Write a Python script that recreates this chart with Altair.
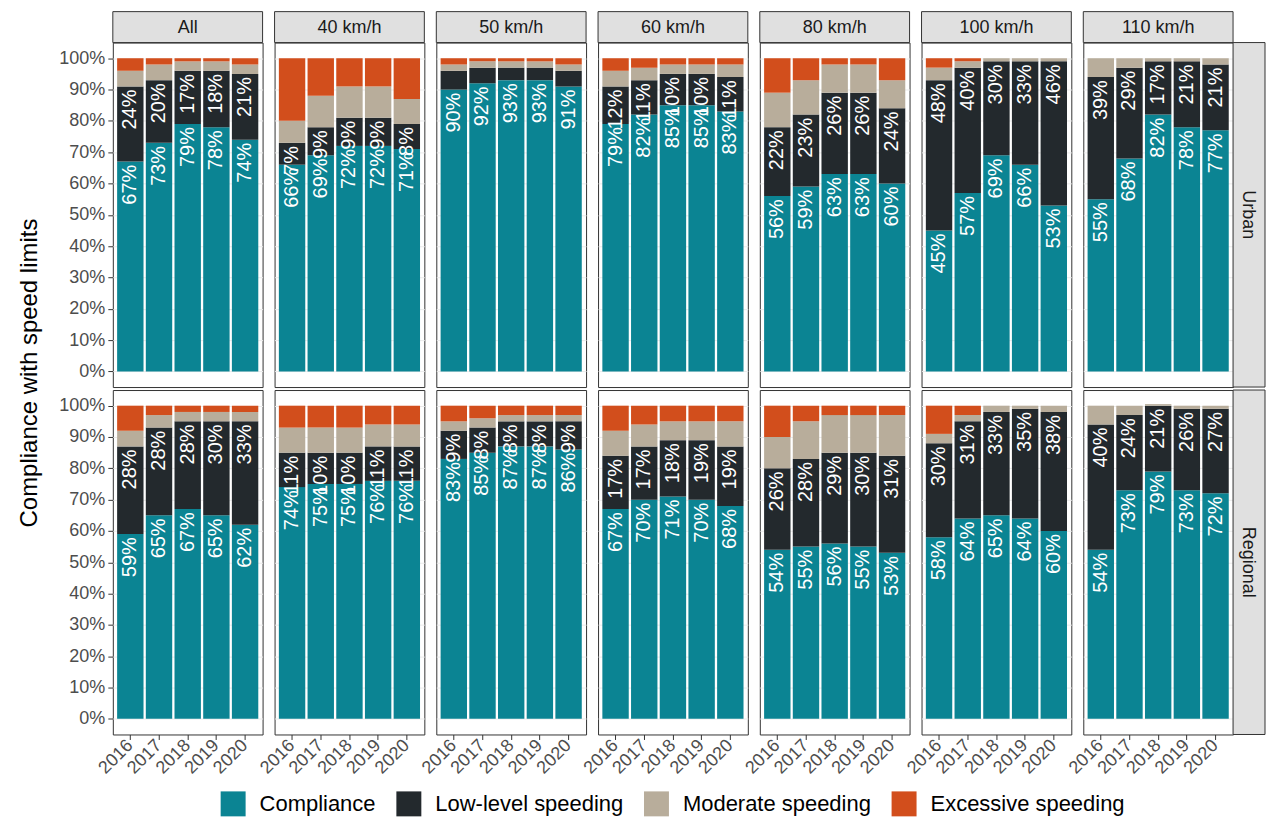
import altair as alt
import pandas as pd

FONT = "Liberation Sans"

years = ["2016", "2017", "2018", "2019", "2020"]
limits = ["All", "40 km/h", "50 km/h", "60 km/h", "80 km/h", "100 km/h", "110 km/h"]
areas = ["Urban", "Regional"]
categories = ["Compliance", "Low-level speeding", "Moderate speeding", "Excessive speeding"]
palette = ["#0b8493", "#23292d", "#b8ad9b", "#d24e1c"]

# Share of vehicles (%) per speed limit, one value per year 2016-2020
urban_compliance = {
    "All": [67, 73, 79, 78, 74], "40 km/h": [66, 69, 72, 72, 71], "50 km/h": [90, 92, 93, 93, 91],
    "60 km/h": [79, 82, 85, 85, 83], "80 km/h": [56, 59, 63, 63, 60], "100 km/h": [45, 57, 69, 66, 53],
    "110 km/h": [55, 68, 82, 78, 77],
}
urban_low = {
    "All": [24, 20, 17, 18, 21], "40 km/h": [7, 9, 9, 9, 8], "50 km/h": [6, 5, 4, 4, 5],
    "60 km/h": [12, 11, 10, 10, 11], "80 km/h": [22, 23, 26, 26, 24], "100 km/h": [48, 40, 30, 33, 46],
    "110 km/h": [39, 29, 17, 21, 21],
}
urban_moderate = {
    "All": [5, 5, 3, 3, 3], "40 km/h": [7, 10, 10, 10, 8], "50 km/h": [2, 2, 2, 2, 2],
    "60 km/h": [5, 4, 3, 3, 4], "80 km/h": [11, 11, 9, 9, 9], "100 km/h": [4, 2, 1, 1, 1],
    "110 km/h": [6, 3, 1, 1, 2],
}
urban_excessive = {
    "All": [4, 2, 1, 1, 2], "40 km/h": [20, 12, 9, 9, 13], "50 km/h": [2, 1, 1, 1, 2],
    "60 km/h": [4, 3, 2, 2, 2], "80 km/h": [11, 7, 2, 2, 7], "100 km/h": [3, 1, 0, 0, 0],
    "110 km/h": [0, 0, 0, 0, 0],
}
regional_compliance = {
    "All": [59, 65, 67, 65, 62], "40 km/h": [74, 75, 75, 76, 76], "50 km/h": [83, 85, 87, 87, 86],
    "60 km/h": [67, 70, 71, 70, 68], "80 km/h": [54, 55, 56, 55, 53], "100 km/h": [58, 64, 65, 64, 60],
    "110 km/h": [54, 73, 79, 73, 72],
}
regional_low = {
    "All": [28, 28, 28, 30, 33], "40 km/h": [11, 10, 10, 11, 11], "50 km/h": [9, 8, 8, 8, 9],
    "60 km/h": [17, 17, 18, 19, 19], "80 km/h": [26, 28, 29, 30, 31], "100 km/h": [30, 31, 33, 35, 38],
    "110 km/h": [40, 24, 21, 26, 27],
}
regional_moderate = {
    "All": [5, 4, 3, 3, 3], "40 km/h": [8, 8, 8, 7, 7], "50 km/h": [3, 3, 2, 2, 2],
    "60 km/h": [8, 7, 6, 6, 8], "80 km/h": [10, 12, 12, 12, 13], "100 km/h": [3, 2, 2, 1, 2],
    "110 km/h": [6, 3, 0.5, 1, 1],
}
regional_excessive = {
    "All": [8, 3, 2, 2, 2], "40 km/h": [7, 7, 7, 6, 6], "50 km/h": [5, 4, 3, 3, 3],
    "60 km/h": [8, 6, 5, 5, 5], "80 km/h": [10, 5, 3, 3, 3], "100 km/h": [9, 3, 0, 0, 0],
    "110 km/h": [0, 0, 0, 0, 0],
}

tables = {
    "Urban": [urban_compliance, urban_low, urban_moderate, urban_excessive],
    "Regional": [regional_compliance, regional_low, regional_moderate, regional_excessive],
}

records = []
for area in areas:
    for limit in limits:
        for k, cat in enumerate(categories):
            for i, yr in enumerate(years):
                records.append({"area": area, "limit": limit, "year": yr, "category": cat,
                                "order": k, "value": tables[area][k][limit][i]})
df = pd.DataFrame(records)

W, H = 150, 345

base = alt.Chart().transform_stack(
    stack="value",
    groupby=["area", "limit", "year"],
    sort=[alt.SortField("order", order="ascending")],
    as_=["y0", "y1"],
)

x_enc = alt.X(
    "year:O", title=None,
    scale=alt.Scale(paddingInner=0.08, paddingOuter=0.15),
    axis=alt.Axis(labelAngle=-45, labelAlign="right", labelBaseline="middle"),
)
y_scale = alt.Scale(domain=[-5, 105], nice=False)
y_axis = alt.Axis(values=list(range(0, 101, 10)), labelExpr="datum.value + '%'", title=None)

bars = base.mark_bar().encode(
    x=x_enc,
    y=alt.Y("y0:Q", scale=y_scale, axis=y_axis),
    y2="y1:Q",
    color=alt.Color("category:N", scale=alt.Scale(domain=categories, range=palette),
                    legend=alt.Legend(title=None, orient="none", legendX=108, legendY=750,
                                      direction="horizontal")),
)

labels = base.transform_filter(
    "datum.order <= 1 && datum.value >= 7"
).transform_calculate(
    ylab="datum.y1 - 1", lab="datum.value + '%'"
).mark_text(
    angle=270, align="right", baseline="middle", color="white", fontSize=20, font=FONT
).encode(
    x=x_enc,
    y=alt.Y("ylab:Q", scale=y_scale, axis=y_axis),
    text="lab:N",
)

top_filter = "datum.area == 'Urban' && datum.year == '2016' && datum.order == 0"
strip_top = base.transform_filter(top_filter).mark_rect(
    fill="#e0e0e0", stroke="#333333", strokeWidth=1
).encode(x=alt.value(0), x2=alt.value(W), y=alt.value(-31), y2=alt.value(0))
strip_top_text = base.transform_filter(top_filter).mark_text(
    fontSize=18, color="#1a1a1a", font=FONT, baseline="middle", align="center"
).encode(x=alt.value(W / 2), y=alt.value(-15), text="limit:N")

right_filter = "datum.limit == '110 km/h' && datum.year == '2016' && datum.order == 0"
strip_right = base.transform_filter(right_filter).mark_rect(
    fill="#e0e0e0", stroke="#333333", strokeWidth=1
).encode(x=alt.value(W), x2=alt.value(W + 32), y=alt.value(0), y2=alt.value(H))
strip_right_text = base.transform_filter(right_filter).mark_text(
    fontSize=18, color="#1a1a1a", font=FONT, angle=90, baseline="middle", align="center"
).encode(x=alt.value(W + 15), y=alt.value(H / 2), text="area:N")

panel = alt.layer(
    bars, labels, strip_top, strip_top_text, strip_right, strip_right_text, data=df
).properties(width=W, height=H)

chart = panel.facet(
    row=alt.Row("area:N", sort=areas, title="Compliance with speed limits",
                header=alt.Header(labels=False, titleOrient="left")),
    column=alt.Column("limit:N", sort=limits, title=None, header=alt.Header(labels=False)),
    spacing={"row": 3, "column": 12},
    bounds="flush",
).properties(
    padding={"left": 17, "top": 10, "right": 0, "bottom": 0},
    background="white",
).configure(
    font=FONT
).configure_header(
    titleFont=FONT, titleFontSize=24, titleFontWeight="normal", titleColor="black",
    titlePadding=6,
).configure_view(
    stroke="#333333", strokeWidth=1
).configure_axis(
    labelFont=FONT, labelFontSize=18, labelColor="#4d4d4d",
    tickColor="#333333", tickSize=5, labelPadding=3, domain=False,
).configure_axisY(
    grid=True, gridColor="#ebebeb",
).configure_axisX(
    grid=False,
).configure_legend(
    symbolType="square", symbolSize=625, symbolStrokeWidth=0,
    labelFont=FONT, labelFontSize=22, labelColor="black", labelLimit=0,
    columnPadding=20, labelOffset=14, padding=0,
)

chart.save("out.html", embed_options={"renderer": "svg", "actions": False})
